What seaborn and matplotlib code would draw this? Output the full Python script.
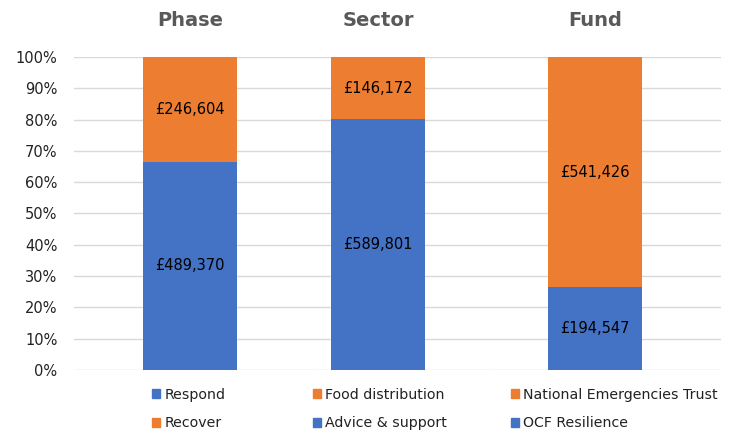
import numpy as np
import pandas as pd
import seaborn as sns
import matplotlib.pyplot as plt
from matplotlib.patches import Patch

# Datos de los tres gráficos
groups = ['Phase', 'Sector', 'Fund']
bottom_labels = ['Respond', 'Advice & support', 'OCF Resilience']
bottom_values = [489370, 589801, 194547]
top_labels = ['Recover', 'Food distribution', 'National Emergencies Trust']
top_values = [246604, 146172, 541426]
y_ticks = [0, 10, 20, 30, 40, 50, 60, 70, 80, 90, 100]

blue = '#4472C4'
orange = '#ED7D31'

sns.set_theme(style='white')
plt.rcParams['font.family'] = ['DejaVu Sans']

fig = plt.figure(figsize=(7.35, 4.34), dpi=100)

# Paneles (en pixeles): izquierda, derecha y centro de la barra
panels = [(74, 312, 190), (312, 495, 378), (495, 721, 595)]
unit = 117.5  # pixeles por unidad de x (ancho de barra 0.8)
W, H = 735, 434
bottom_px, top_px = 370, 57

for i, (left, right, center) in enumerate(panels):
    ax = fig.add_axes([left / W, 1 - bottom_px / H, (right - left) / W, (bottom_px - top_px) / H])
    total = bottom_values[i] + top_values[i]
    df = pd.DataFrame({'grupo': [groups[i]],
                       'total': [100.0],
                       'abajo': [bottom_values[i] / total * 100]})
    sns.barplot(data=df, x='grupo', y='total', color=orange, saturation=1, width=0.8, linewidth=0, ax=ax)
    sns.barplot(data=df, x='grupo', y='abajo', color=blue, saturation=1, width=0.8, linewidth=0, ax=ax)
    ax.set_xlim(-(center - left) / unit, (right - center) / unit)
    ax.set_ylim(0, 100)
    ax.set_yticks(y_ticks)
    ax.yaxis.grid(True, color='#D9D9D9', lw=1)
    ax.set_axisbelow(True)
    for s in ax.spines.values():
        s.set_visible(False)
    ax.set_xlabel('')
    ax.set_ylabel('')
    ax.set_xticks([])
    if i == 0:
        ax.set_yticklabels([f'{t}%' for t in y_ticks], fontsize=10.5, color='#222222')
        ax.tick_params(axis='y', length=0, pad=12)
    else:
        ax.set_yticklabels([])
        ax.tick_params(axis='y', length=0)
    b = bottom_values[i] / total * 100
    ax.text(0, b / 2, f'£{bottom_values[i]:,}', ha='center', va='center', fontsize=10.5, color='black')
    ax.text(0, b + (100 - b) / 2, f'£{top_values[i]:,}', ha='center', va='center', fontsize=10.5, color='black')
    fig.text(center / W, 1 - 21 / H, groups[i], ha='center', va='center',
             fontsize=14, fontweight='bold', color='#595959')

# Leyenda de abajo: una columna por gráfico
legend_cols = [
    [Patch(color=blue, label='Respond'), Patch(color=orange, label='Recover')],
    [Patch(color=orange, label='Food distribution'), Patch(color=blue, label='Advice & support')],
    [Patch(color=orange, label='National Emergencies Trust'), Patch(color=blue, label='OCF Resilience')],
]
legend_x = [146, 307, 505]
for handles, lx in zip(legend_cols, legend_x):
    fig.legend(handles=handles, ncol=1, loc='center left', bbox_to_anchor=(lx / W, 1 - 409 / H),
               frameon=False, fontsize=10.2, handlelength=0.6, handleheight=0.6, handletextpad=0.3,
               labelspacing=1.0, labelcolor='#222222', borderaxespad=0)

fig.savefig('out.png', dpi=100)
